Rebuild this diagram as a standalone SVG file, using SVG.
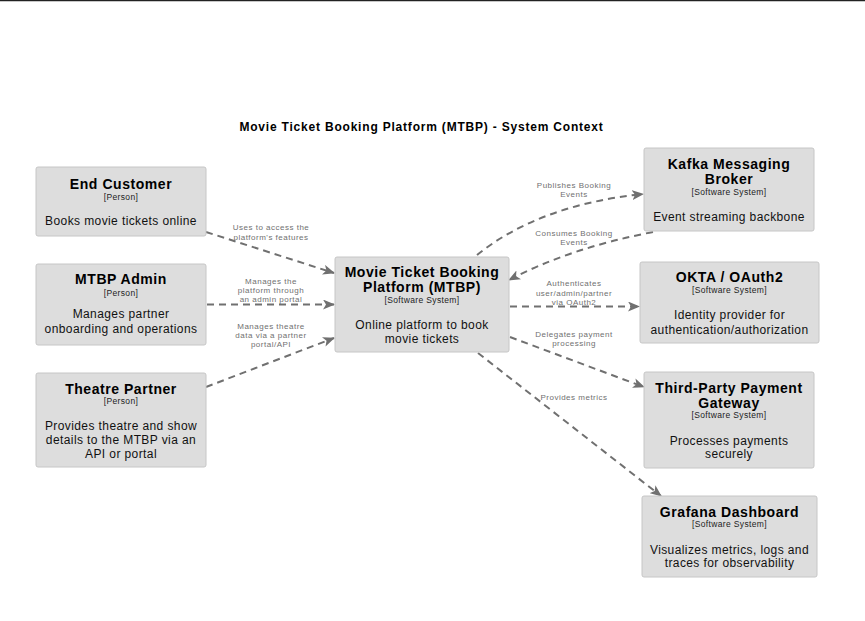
<svg xmlns="http://www.w3.org/2000/svg" width="865" height="621" viewBox="0 0 865 621">
<defs>
<style>
.bg{fill:#ffffff}
.box{fill:#dddddd;stroke:#c6c6c6;stroke-width:1}
.t{font-family:"Liberation Sans",Arial,sans-serif;text-anchor:middle;fill:#000}
.name{font-size:14px;font-weight:bold;letter-spacing:0.55px}
.kind{font-size:8.5px;letter-spacing:0.35px;fill:#222}
.desc{font-size:12px;letter-spacing:0.4px;fill:#111}
.title{font-size:12px;font-weight:bold;letter-spacing:0.8px}
.lbl{font-family:"Liberation Sans",Arial,sans-serif;text-anchor:middle;font-size:8px;letter-spacing:0.5px;fill:#707070}
.edge{fill:none;stroke:#707070;stroke-width:2;stroke-dasharray:7 5}
</style>
<marker id="arr" viewBox="0 0 12 10" refX="11" refY="5" markerWidth="12" markerHeight="10" markerUnits="userSpaceOnUse" orient="auto">
<path d="M0,0 L12,5 L0,10 L3,5 Z" fill="#707070"/>
</marker>
</defs>
<rect class="bg" x="0" y="0" width="865" height="621"/>
<line x1="0" y1="0.5" x2="865" y2="0.5" stroke="#222" stroke-width="1.5"/>
<text class="t title" x="421.5" y="131">Movie Ticket Booking Platform (MTBP) - System Context</text>

<g id="connectors">
<g id="e1"><path class="edge" d="M206,232 L334,273" marker-end="url(#arr)"/>
<text class="lbl" x="271" y="230">Uses to access the</text><text class="lbl" x="271" y="239.5">platform's features</text></g>
<g id="e2"><path class="edge" d="M207,304.5 L334,304.5" marker-end="url(#arr)"/>
<text class="lbl" x="271" y="284">Manages the</text><text class="lbl" x="271" y="293">platform through</text><text class="lbl" x="271" y="302">an admin portal</text></g>
<g id="e3"><path class="edge" d="M206,387 L334,338" marker-end="url(#arr)"/>
<text class="lbl" x="271" y="329">Manages theatre</text><text class="lbl" x="271" y="338">data via a partner</text><text class="lbl" x="271" y="347">portal/API</text></g>
<g id="e4"><path class="edge" d="M477,255 Q539,205 643,194" marker-end="url(#arr)"/>
<text class="lbl" x="574" y="188">Publishes Booking</text><text class="lbl" x="574" y="197">Events</text></g>
<g id="e5"><path class="edge" d="M653,232 Q570,248 509,280" marker-end="url(#arr)"/>
<text class="lbl" x="574" y="236">Consumes Booking</text><text class="lbl" x="574" y="245">Events</text></g>
<g id="e6"><path class="edge" d="M510,306.5 L639,306.5" marker-end="url(#arr)"/>
<text class="lbl" x="574" y="286">Authenticates</text><text class="lbl" x="574" y="295.5">user/admin/partner</text><text class="lbl" x="574" y="305">via OAuth2</text></g>
<g id="e7"><path class="edge" d="M510,337 L644,387" marker-end="url(#arr)"/>
<text class="lbl" x="574" y="337">Delegates payment</text><text class="lbl" x="574" y="346">processing</text></g>
<g id="e8"><path class="edge" d="M478,353 L661,496" marker-end="url(#arr)"/>
<text class="lbl" x="574" y="400">Provides metrics</text></g>
</g>

<g id="end-customer">
<rect class="box" x="36" y="167" width="170" height="69" rx="2"/>
<text class="t name" x="121" y="189">End Customer</text>
<text class="t kind" x="121" y="200">[Person]</text>
<text class="t desc" x="121" y="225">Books movie tickets online</text>
</g>
<g id="mtbp-admin">
<rect class="box" x="36" y="264" width="170" height="81" rx="2"/>
<text class="t name" x="121" y="284">MTBP Admin</text>
<text class="t kind" x="121" y="296">[Person]</text>
<text class="t desc" x="121" y="318">Manages partner</text>
<text class="t desc" x="121" y="333">onboarding and operations</text>
</g>
<g id="theatre-partner">
<rect class="box" x="36" y="373" width="170" height="94" rx="2"/>
<text class="t name" x="121" y="394">Theatre Partner</text>
<text class="t kind" x="121" y="404">[Person]</text>
<text class="t desc" x="121" y="430">Provides theatre and show</text>
<text class="t desc" x="121" y="444">details to the MTBP via an</text>
<text class="t desc" x="121" y="458">API or portal</text>
</g>
<g id="mtbp">
<rect class="box" x="335" y="257" width="174" height="95" rx="2"/>
<text class="t name" x="422" y="277">Movie Ticket Booking</text>
<text class="t name" x="422" y="292">Platform (MTBP)</text>
<text class="t kind" x="422" y="303">[Software System]</text>
<text class="t desc" x="422" y="329">Online platform to book</text>
<text class="t desc" x="422" y="343">movie tickets</text>
</g>
<g id="kafka">
<rect class="box" x="644" y="148" width="170" height="83" rx="2"/>
<text class="t name" x="729" y="169">Kafka Messaging</text>
<text class="t name" x="729" y="184">Broker</text>
<text class="t kind" x="729" y="195">[Software System]</text>
<text class="t desc" x="729" y="221">Event streaming backbone</text>
</g>
<g id="okta">
<rect class="box" x="640" y="262" width="179" height="81" rx="2"/>
<text class="t name" x="729.5" y="282">OKTA / OAuth2</text>
<text class="t kind" x="729.5" y="293">[Software System]</text>
<text class="t desc" x="729.5" y="319">Identity provider for</text>
<text class="t desc" x="729.5" y="334">authentication/authorization</text>
</g>
<g id="payment">
<rect class="box" x="644" y="372" width="170" height="96" rx="2"/>
<text class="t name" x="729" y="393">Third-Party Payment</text>
<text class="t name" x="729" y="407.5">Gateway</text>
<text class="t kind" x="729" y="418">[Software System]</text>
<text class="t desc" x="729" y="445">Processes payments</text>
<text class="t desc" x="729" y="458">securely</text>
</g>
<g id="grafana">
<rect class="box" x="642" y="496" width="175" height="81" rx="2"/>
<text class="t name" x="729.5" y="517">Grafana Dashboard</text>
<text class="t kind" x="729.5" y="527">[Software System]</text>
<text class="t desc" x="729.5" y="554">Visualizes metrics, logs and</text>
<text class="t desc" x="729.5" y="567">traces for observability</text>
</g>
</svg>
